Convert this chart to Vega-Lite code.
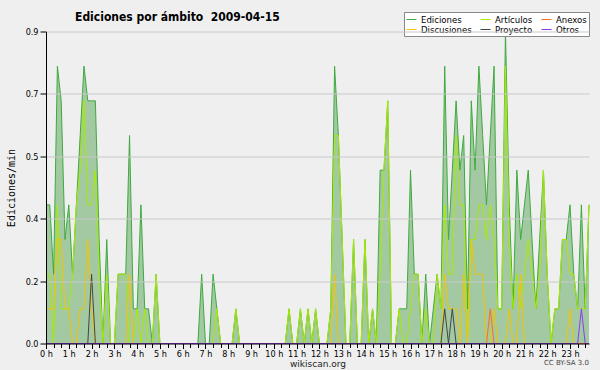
{
"$schema": "https://vega.github.io/schema/vega-lite/v6.json",
"width": 543, "height": 312,
"autosize": {"type": "none"},
"padding": {"left": 46, "top": 31.5, "right": 11, "bottom": 26.5},
"background": "#efefef",
"title": {"text": "Ediciones por ámbito\u00a0 2009-04-15", "anchor": "start", "frame": "group", "dx": 29, "offset": -21, "baseline": "alphabetic", "font": "DejaVu Sans Condensed", "fontSize": 12, "fontWeight": "bold", "color": "#000"},
"data": {"values": [
{"m":0,"ed":0.4,"ar":0.2,"di":0.1,"pr":0,"an":0,"ot":0},
{"m":10,"ed":0.4,"ar":0.2,"di":0.1,"pr":0,"an":0,"ot":0},
{"m":20,"ed":0.2,"ar":0,"di":0.1,"pr":0,"an":0,"ot":0},
{"m":30,"ed":0.8,"ar":0.4,"di":0.3,"pr":0,"an":0,"ot":0},
{"m":40,"ed":0.7,"ar":0.1,"di":0.3,"pr":0,"an":0,"ot":0},
{"m":50,"ed":0.3,"ar":0.1,"di":0.1,"pr":0,"an":0,"ot":0},
{"m":60,"ed":0.4,"ar":0.1,"di":0.1,"pr":0,"an":0,"ot":0},
{"m":70,"ed":0.2,"ar":0.2,"di":0,"pr":0,"an":0,"ot":0},
{"m":80,"ed":0.4,"ar":0.4,"di":0,"pr":0,"an":0,"ot":0},
{"m":90,"ed":0.6,"ar":0.5,"di":0.1,"pr":0,"an":0,"ot":0},
{"m":100,"ed":0.8,"ar":0.7,"di":0.1,"pr":0,"an":0,"ot":0},
{"m":110,"ed":0.7,"ar":0.4,"di":0.3,"pr":0,"an":0,"ot":0},
{"m":120,"ed":0.7,"ar":0.4,"di":0.1,"pr":0.2,"an":0,"ot":0},
{"m":130,"ed":0.7,"ar":0.5,"di":0,"pr":0,"an":0,"ot":0},
{"m":140,"ed":0.3,"ar":0.2,"di":0,"pr":0,"an":0,"ot":0},
{"m":150,"ed":0,"ar":0,"di":0,"pr":0,"an":0,"ot":0},
{"m":160,"ed":0.3,"ar":0.2,"di":0,"pr":0,"an":0,"ot":0},
{"m":170,"ed":0,"ar":0,"di":0,"pr":0,"an":0,"ot":0},
{"m":180,"ed":0,"ar":0,"di":0,"pr":0,"an":0,"ot":0},
{"m":190,"ed":0.2,"ar":0.2,"di":0,"pr":0,"an":0,"ot":0},
{"m":200,"ed":0.2,"ar":0.2,"di":0,"pr":0,"an":0,"ot":0},
{"m":210,"ed":0.2,"ar":0.2,"di":0,"pr":0,"an":0,"ot":0},
{"m":220,"ed":0.6,"ar":0,"di":0.2,"pr":0,"an":0,"ot":0},
{"m":230,"ed":0.1,"ar":0,"di":0,"pr":0,"an":0,"ot":0},
{"m":240,"ed":0.1,"ar":0.1,"di":0,"pr":0,"an":0,"ot":0},
{"m":250,"ed":0.4,"ar":0,"di":0,"pr":0,"an":0,"ot":0},
{"m":260,"ed":0.1,"ar":0.1,"di":0,"pr":0,"an":0,"ot":0},
{"m":270,"ed":0.1,"ar":0,"di":0,"pr":0,"an":0,"ot":0},
{"m":280,"ed":0,"ar":0,"di":0,"pr":0,"an":0,"ot":0},
{"m":290,"ed":0.2,"ar":0.2,"di":0,"pr":0,"an":0,"ot":0},
{"m":300,"ed":0,"ar":0,"di":0,"pr":0,"an":0,"ot":0},
{"m":310,"ed":0,"ar":0,"di":0,"pr":0,"an":0,"ot":0},
{"m":320,"ed":0,"ar":0,"di":0,"pr":0,"an":0,"ot":0},
{"m":330,"ed":0,"ar":0,"di":0,"pr":0,"an":0,"ot":0},
{"m":340,"ed":0,"ar":0,"di":0,"pr":0,"an":0,"ot":0},
{"m":350,"ed":0,"ar":0,"di":0,"pr":0,"an":0,"ot":0},
{"m":360,"ed":0,"ar":0,"di":0,"pr":0,"an":0,"ot":0},
{"m":370,"ed":0,"ar":0,"di":0,"pr":0,"an":0,"ot":0},
{"m":380,"ed":0,"ar":0,"di":0,"pr":0,"an":0,"ot":0},
{"m":390,"ed":0,"ar":0,"di":0,"pr":0,"an":0,"ot":0},
{"m":400,"ed":0,"ar":0,"di":0,"pr":0,"an":0,"ot":0},
{"m":410,"ed":0.2,"ar":0,"di":0,"pr":0,"an":0,"ot":0},
{"m":420,"ed":0,"ar":0,"di":0,"pr":0,"an":0,"ot":0},
{"m":430,"ed":0,"ar":0,"di":0,"pr":0,"an":0,"ot":0},
{"m":440,"ed":0.2,"ar":0,"di":0,"pr":0,"an":0,"ot":0},
{"m":450,"ed":0.1,"ar":0.1,"di":0,"pr":0,"an":0,"ot":0},
{"m":460,"ed":0,"ar":0,"di":0,"pr":0,"an":0,"ot":0},
{"m":470,"ed":0,"ar":0,"di":0,"pr":0,"an":0,"ot":0},
{"m":480,"ed":0,"ar":0,"di":0,"pr":0,"an":0,"ot":0},
{"m":490,"ed":0,"ar":0,"di":0,"pr":0,"an":0,"ot":0},
{"m":500,"ed":0.1,"ar":0.1,"di":0,"pr":0,"an":0,"ot":0},
{"m":510,"ed":0,"ar":0,"di":0,"pr":0,"an":0,"ot":0},
{"m":520,"ed":0,"ar":0,"di":0,"pr":0,"an":0,"ot":0},
{"m":530,"ed":0,"ar":0,"di":0,"pr":0,"an":0,"ot":0},
{"m":540,"ed":0,"ar":0,"di":0,"pr":0,"an":0,"ot":0},
{"m":550,"ed":0,"ar":0,"di":0,"pr":0,"an":0,"ot":0},
{"m":560,"ed":0,"ar":0,"di":0,"pr":0,"an":0,"ot":0},
{"m":570,"ed":0,"ar":0,"di":0,"pr":0,"an":0,"ot":0},
{"m":580,"ed":0,"ar":0,"di":0,"pr":0,"an":0,"ot":0},
{"m":590,"ed":0,"ar":0,"di":0,"pr":0,"an":0,"ot":0},
{"m":600,"ed":0,"ar":0,"di":0,"pr":0,"an":0,"ot":0},
{"m":610,"ed":0,"ar":0,"di":0,"pr":0,"an":0,"ot":0},
{"m":620,"ed":0,"ar":0,"di":0,"pr":0,"an":0,"ot":0},
{"m":630,"ed":0,"ar":0,"di":0,"pr":0,"an":0,"ot":0},
{"m":640,"ed":0.1,"ar":0.1,"di":0,"pr":0,"an":0,"ot":0},
{"m":650,"ed":0,"ar":0,"di":0,"pr":0,"an":0,"ot":0},
{"m":660,"ed":0,"ar":0,"di":0,"pr":0,"an":0,"ot":0},
{"m":670,"ed":0.1,"ar":0.1,"di":0,"pr":0,"an":0,"ot":0},
{"m":680,"ed":0,"ar":0,"di":0,"pr":0,"an":0,"ot":0},
{"m":690,"ed":0.1,"ar":0.1,"di":0,"pr":0,"an":0,"ot":0},
{"m":700,"ed":0,"ar":0,"di":0,"pr":0,"an":0,"ot":0},
{"m":710,"ed":0.1,"ar":0.1,"di":0,"pr":0,"an":0,"ot":0},
{"m":720,"ed":0,"ar":0,"di":0,"pr":0,"an":0,"ot":0},
{"m":730,"ed":0,"ar":0,"di":0,"pr":0,"an":0,"ot":0},
{"m":740,"ed":0,"ar":0,"di":0,"pr":0,"an":0,"ot":0},
{"m":750,"ed":0.1,"ar":0.1,"di":0,"pr":0,"an":0,"ot":0},
{"m":760,"ed":0.8,"ar":0.6,"di":0.2,"pr":0,"an":0,"ot":0},
{"m":770,"ed":0.6,"ar":0.6,"di":0,"pr":0,"an":0,"ot":0},
{"m":780,"ed":0.3,"ar":0.3,"di":0,"pr":0,"an":0,"ot":0},
{"m":790,"ed":0,"ar":0,"di":0,"pr":0,"an":0,"ot":0},
{"m":800,"ed":0,"ar":0,"di":0,"pr":0,"an":0,"ot":0},
{"m":810,"ed":0.3,"ar":0.3,"di":0,"pr":0,"an":0,"ot":0},
{"m":820,"ed":0,"ar":0,"di":0,"pr":0,"an":0,"ot":0},
{"m":830,"ed":0,"ar":0,"di":0,"pr":0,"an":0,"ot":0},
{"m":840,"ed":0.3,"ar":0.3,"di":0,"pr":0,"an":0,"ot":0},
{"m":850,"ed":0,"ar":0,"di":0,"pr":0,"an":0,"ot":0},
{"m":860,"ed":0.1,"ar":0.1,"di":0,"pr":0,"an":0,"ot":0},
{"m":870,"ed":0,"ar":0,"di":0,"pr":0,"an":0,"ot":0},
{"m":880,"ed":0.5,"ar":0.2,"di":0,"pr":0,"an":0,"ot":0},
{"m":890,"ed":0.5,"ar":0.5,"di":0,"pr":0,"an":0,"ot":0},
{"m":900,"ed":0.7,"ar":0.7,"di":0,"pr":0,"an":0,"ot":0},
{"m":910,"ed":0,"ar":0,"di":0,"pr":0,"an":0,"ot":0},
{"m":920,"ed":0,"ar":0,"di":0,"pr":0,"an":0,"ot":0},
{"m":930,"ed":0.1,"ar":0.1,"di":0,"pr":0,"an":0,"ot":0},
{"m":940,"ed":0.1,"ar":0,"di":0,"pr":0,"an":0,"ot":0},
{"m":950,"ed":0.1,"ar":0,"di":0,"pr":0,"an":0,"ot":0},
{"m":960,"ed":0.5,"ar":0.1,"di":0,"pr":0,"an":0,"ot":0},
{"m":970,"ed":0.2,"ar":0.2,"di":0,"pr":0,"an":0,"ot":0},
{"m":980,"ed":0.2,"ar":0.2,"di":0,"pr":0,"an":0,"ot":0},
{"m":990,"ed":0,"ar":0,"di":0,"pr":0,"an":0,"ot":0},
{"m":1000,"ed":0.2,"ar":0.1,"di":0,"pr":0,"an":0,"ot":0},
{"m":1010,"ed":0,"ar":0,"di":0,"pr":0,"an":0,"ot":0},
{"m":1020,"ed":0.1,"ar":0,"di":0,"pr":0,"an":0,"ot":0},
{"m":1030,"ed":0.2,"ar":0.2,"di":0,"pr":0,"an":0,"ot":0},
{"m":1040,"ed":0.1,"ar":0.1,"di":0,"pr":0,"an":0,"ot":0},
{"m":1050,"ed":0.8,"ar":0.4,"di":0.2,"pr":0.1,"an":0,"ot":0},
{"m":1060,"ed":0.3,"ar":0.2,"di":0.1,"pr":0,"an":0,"ot":0},
{"m":1070,"ed":0.5,"ar":0.2,"di":0.1,"pr":0.1,"an":0,"ot":0},
{"m":1080,"ed":0.7,"ar":0.6,"di":0.1,"pr":0,"an":0,"ot":0},
{"m":1090,"ed":0.5,"ar":0.4,"di":0,"pr":0,"an":0,"ot":0},
{"m":1100,"ed":0.6,"ar":0.4,"di":0.2,"pr":0,"an":0,"ot":0},
{"m":1110,"ed":0.1,"ar":0,"di":0,"pr":0,"an":0,"ot":0},
{"m":1120,"ed":0.7,"ar":0.3,"di":0.3,"pr":0,"an":0,"ot":0},
{"m":1130,"ed":0.5,"ar":0.3,"di":0.2,"pr":0,"an":0,"ot":0},
{"m":1140,"ed":0.8,"ar":0.4,"di":0.2,"pr":0,"an":0,"ot":0},
{"m":1150,"ed":0.6,"ar":0.4,"di":0.2,"pr":0,"an":0,"ot":0},
{"m":1160,"ed":0.4,"ar":0.3,"di":0,"pr":0,"an":0,"ot":0},
{"m":1170,"ed":0.6,"ar":0.4,"di":0,"pr":0,"an":0.1,"ot":0},
{"m":1180,"ed":0.8,"ar":0.3,"di":0.1,"pr":0,"an":0,"ot":0},
{"m":1190,"ed":0.1,"ar":0.1,"di":0,"pr":0,"an":0,"ot":0},
{"m":1200,"ed":0.1,"ar":0.1,"di":0,"pr":0,"an":0,"ot":0},
{"m":1210,"ed":0.9,"ar":0.8,"di":0,"pr":0,"an":0,"ot":0},
{"m":1220,"ed":0.4,"ar":0.3,"di":0.1,"pr":0,"an":0,"ot":0},
{"m":1230,"ed":0.1,"ar":0.1,"di":0,"pr":0,"an":0,"ot":0},
{"m":1240,"ed":0.5,"ar":0.2,"di":0,"pr":0,"an":0,"ot":0},
{"m":1250,"ed":0.3,"ar":0.1,"di":0.2,"pr":0,"an":0,"ot":0},
{"m":1260,"ed":0.4,"ar":0.2,"di":0,"pr":0,"an":0,"ot":0},
{"m":1270,"ed":0.5,"ar":0.3,"di":0,"pr":0,"an":0,"ot":0},
{"m":1280,"ed":0.3,"ar":0.2,"di":0,"pr":0,"an":0,"ot":0},
{"m":1290,"ed":0.1,"ar":0.1,"di":0,"pr":0,"an":0,"ot":0},
{"m":1300,"ed":0.3,"ar":0.2,"di":0,"pr":0,"an":0,"ot":0},
{"m":1310,"ed":0.5,"ar":0.5,"di":0,"pr":0,"an":0,"ot":0},
{"m":1320,"ed":0.2,"ar":0.2,"di":0,"pr":0,"an":0,"ot":0},
{"m":1330,"ed":0,"ar":0,"di":0,"pr":0,"an":0,"ot":0},
{"m":1340,"ed":0.1,"ar":0.1,"di":0,"pr":0,"an":0,"ot":0},
{"m":1350,"ed":0.1,"ar":0.1,"di":0,"pr":0,"an":0,"ot":0},
{"m":1360,"ed":0.3,"ar":0.3,"di":0,"pr":0,"an":0,"ot":0},
{"m":1370,"ed":0.3,"ar":0.3,"di":0,"pr":0,"an":0,"ot":0},
{"m":1380,"ed":0.4,"ar":0.2,"di":0.1,"pr":0,"an":0,"ot":0},
{"m":1390,"ed":0.2,"ar":0.2,"di":0,"pr":0,"an":0,"ot":0},
{"m":1400,"ed":0.1,"ar":0.1,"di":0,"pr":0,"an":0,"ot":0},
{"m":1410,"ed":0.4,"ar":0.1,"di":0,"pr":0,"an":0,"ot":0.1},
{"m":1420,"ed":0.1,"ar":0.1,"di":0,"pr":0,"an":0,"ot":0},
{"m":1430,"ed":0.4,"ar":0.4,"di":0,"pr":0,"an":0,"ot":0}
]},
"encoding": {
  "x": {"field": "m", "type": "quantitative", "scale": {"domain": [0, 1430], "nice": false, "zero": false},
    "axis": {"values": [0,20,40,60,80,100,120,140,160,180,200,220,240,260,280,300,320,340,360,380,400,420,440,460,480,500,520,540,560,580,600,620,640,660,680,700,720,740,760,780,800,820,840,860,880,900,920,940,960,980,1000,1020,1040,1060,1080,1100,1120,1140,1160,1180,1200,1220,1240,1260,1280,1300,1320,1340,1360,1380,1400,1420],
      "labelExpr": "datum.value % 60 == 0 ? (datum.value / 60) + ' h' : ''",
      "title": "wikiscan.org", "titleFont": "DejaVu Sans", "titleFontSize": 9, "titleFontWeight": "normal", "titleColor": "#222", "titlePadding": 1,
      "labelFont": "DejaVu Sans Condensed", "labelFontSize": 9, "labelColor": "#000", "labelPadding": 1, "labelOverlap": false, "labelFlush": false,
      "tickColor": "#000", "tickSize": {"condition": {"test": "datum.value % 60 == 0", "value": 5}, "value": 4},
      "domainColor": "#000", "grid": false, "zindex": 1}}
},
"layer": [
  {"mark": {"type": "area", "color": "#a2c9a2", "opacity": 1},
   "encoding": {"y": {"field": "ed", "type": "quantitative", "scale": {"domain": [0, 0.9], "nice": false},
     "axis": {"values": [0,0.045,0.09,0.135,0.18,0.225,0.27,0.315,0.36,0.405,0.45,0.495,0.54,0.585,0.63,0.675,0.72,0.765,0.81,0.855,0.9],
       "labelExpr": "abs(datum.value/0.18 - round(datum.value/0.18)) < 0.01 ? format(datum.value, '.1f') : ''",
       "gridOpacity": {"condition": {"test": "abs(datum.value/0.18 - round(datum.value/0.18)) < 0.01 && datum.value > 0", "value": 1}, "value": 0},
       "gridColor": "#c8c8c8", "grid": true,
       "tickSize": {"condition": {"test": "abs(datum.value/0.18 - round(datum.value/0.18)) < 0.01", "value": 6}, "value": 4},
       "tickColor": "#000", "domainColor": "#000",
       "labelFont": "DejaVu Sans Condensed", "labelFontSize": 9, "labelColor": "#000", "labelPadding": 2, "labelOverlap": false, "labelFlush": false,
       "title": "Ediciones/min", "titleFont": "DejaVu Sans Mono", "titleFontSize": 10, "titleFontWeight": "normal", "titleColor": "#000", "titlePadding": 9, "zindex": 1}}}},
  {"mark": {"type": "line", "strokeWidth": 1},
   "encoding": {"y": {"field": "ed", "type": "quantitative"},
     "color": {"datum": "Ediciones", "type": "nominal",
       "scale": {"domain": ["Ediciones", "Artículos", "Anexos", "Discusiones", "Proyecto", "Otros"], "range": ["#3faa3f", "#aaea00", "#ff6a28", "#f5c400", "#444444", "#8c3cf0"]},
       "legend": {"orient": "none", "legendX": 358, "legendY": -19.5, "columns": 3, "direction": "horizontal", "title": null, "symbolType": "stroke", "symbolSize": 100, "symbolStrokeWidth": 1,
         "labelFont": "DejaVu Sans Condensed", "labelFontSize": 9.5, "labelColor": "#000", "fillColor": "#ffffff", "strokeColor": "#888888", "padding": 2, "rowPadding": 0, "columnPadding": 6, "labelOffset": 4}}}},
  {"mark": {"type": "line", "strokeWidth": 1},
   "encoding": {"y": {"field": "ar", "type": "quantitative"}, "color": {"datum": "Artículos", "type": "nominal"}}},
  {"mark": {"type": "line", "strokeWidth": 1},
   "encoding": {"y": {"field": "di", "type": "quantitative"}, "color": {"datum": "Discusiones", "type": "nominal"}}},
  {"mark": {"type": "line", "strokeWidth": 1},
   "encoding": {"y": {"field": "pr", "type": "quantitative"}, "color": {"datum": "Proyecto", "type": "nominal"}}},
  {"mark": {"type": "line", "strokeWidth": 1},
   "encoding": {"y": {"field": "an", "type": "quantitative"}, "color": {"datum": "Anexos", "type": "nominal"}}},
  {"mark": {"type": "line", "strokeWidth": 1},
   "encoding": {"y": {"field": "ot", "type": "quantitative"}, "color": {"datum": "Otros", "type": "nominal"}}},
  {"data": {"values": [{"label": "CC BY-SA 3.0", "m": 1430, "v": 0}]},
   "mark": {"type": "text", "align": "right", "baseline": "middle", "dy": 19.5, "fontSize": 7, "font": "DejaVu Sans", "color": "#444"},
   "encoding": {"y": {"field": "v", "type": "quantitative"}, "text": {"field": "label"}}}
],
"config": {"view": {"stroke": null}}
}
